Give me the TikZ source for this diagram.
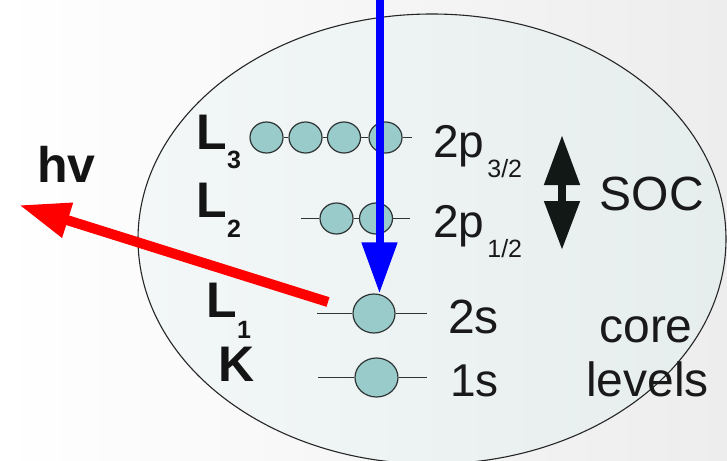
\documentclass[tikz,border=0pt]{standalone}
\usepackage{fontspec}
\setmainfont{Liberation Sans}
\usetikzlibrary{shapes.geometric,arrows.meta}
\definecolor{orbfill}{HTML}{9ACBCB}
\definecolor{orbdraw}{HTML}{2E3434}
\definecolor{ellL}{HTML}{F3F7F7}
\definecolor{ellR}{HTML}{E6EDED}
\definecolor{bgR}{HTML}{EDEDED}
\definecolor{socblack}{HTML}{121816}
\tikzset{
  orb/.style={ellipse, draw=orbdraw, line width=1.2pt, fill=orbfill, inner sep=0pt,
              minimum width=33pt, minimum height=31pt},
  bigorb/.style={orb, minimum width=42pt, minimum height=39pt},
  orbline/.style={draw=orbdraw, line width=1.3pt},
  lbl/.style={inner sep=0pt, anchor=base west, text=black!90, font=\fontsize{46}{50}\selectfont},
  blbl/.style={inner sep=0pt, anchor=base west, text=black!92, font=\fontsize{50}{54}\selectfont\bfseries},
  clbl/.style={inner sep=0pt, anchor=base, text=black!90, font=\fontsize{48}{52}\selectfont},
  bluearrow/.style={draw={rgb,255:red,0;green,0;blue,255}, line width=8pt,
                    -{Triangle[length=51pt,width=34pt]}},
  redarrow/.style={draw={rgb,255:red,255;green,0;blue,0}, line width=10pt,
                   -{Triangle[length=51pt,width=34pt]}},
  socarrow/.style={draw=socblack, line width=8pt,
                   {Triangle[length=50pt,width=34pt]}-{Triangle[length=49pt,width=34pt]}},
}
\newcommand{\sbx}[2]{\raisebox{-#1pt}{\fontsize{25}{25}\selectfont #2}}
\begin{document}
\begin{tikzpicture}[x=1pt,y=-1pt]
\useasboundingbox (0,0) rectangle (727,460);
% background
\shade[left color=white, right color=bgR] (0,0) rectangle (727,460);
% atom ellipse
\shade[left color=ellL, right color=ellR] (432,239) ellipse [x radius=294, y radius=225];
\draw[black!85, line width=1.1pt] (432,239) ellipse [x radius=294, y radius=225];

% L3 (2p3/2)
\node[orb] (c31) at (266.5,137.5) {};
\node[orb] (c32) at (305.5,137.5) {};
\node[orb] (c33) at (344,137.5) {};
\node[orb] (c34) at (385.5,137.5) {};
\coordinate (l3e) at (412,137.5);
\draw[orbline] (c31.east) -- (c32.west) (c32.east) -- (c33.west) (c33.east) -- (c34.west) (c34.east) -- (l3e);

% L2 (2p1/2)
\coordinate (l2s) at (301,218.5);
\node[orb] (c21) at (336.5,218.5) {};
\node[orb] (c22) at (376,218.5) {};
\coordinate (l2e) at (410,218.5);
\draw[orbline] (l2s) -- (c21.west) (c21.east) -- (c22.west) (c22.east) -- (l2e);

% L1 (2s)
\coordinate (l1s) at (317,313.5);
\node[bigorb] (c2s) at (374,313.5) {};
\coordinate (l1e) at (427,313.5);
\draw[orbline] (l1s) -- (c2s.west) (c2s.east) -- (l1e);

% K (1s)
\coordinate (ks) at (318,377.5);
\node[bigorb, minimum width=43pt] (c1s) at (376.5,377.5) {};
\coordinate (ke) at (427,377.5);
\draw[orbline] (ks) -- (c1s.west) (c1s.east) -- (ke);

% shell labels
\node[blbl] (hv) at (37,182) {hv};
\node[blbl] (tL3) at (196.5,149) {L\sbx{19}{3}};
\node[blbl] (tL2) at (196.5,217) {L\sbx{20}{2}};
\node[blbl] (tL1) at (206.5,317) {L\sbx{21}{1}};
\node[blbl] (tK) at (218.5,381) {K};

% level labels
\node[lbl] (t2p3) at (433,157) {2p\hspace{3pt}\sbx{20}{3/2}};
\node[lbl] (t2p1) at (433,237) {2p\hspace{3pt}\sbx{20}{1/2}};
\node[lbl, font=\fontsize{48}{52}\selectfont] (t2s) at (448,333) {2s};
\node[lbl] (t1s) at (450,396) {1s};
\node[lbl, font=\fontsize{48}{52}\selectfont] (tsoc) at (599.5,210) {SOC};
\node[clbl] (tcore) at (646,342) {core};
\node[clbl] (tlev) at (647.5,396) {levels};

% SOC double arrow
\coordinate (soct) at (562,135);
\coordinate (socb) at (562,250);
\draw[socarrow] (soct) -- (socb);

% incoming electron (blue)
\coordinate (btop) at (379.5,-5);
\draw[bluearrow] (btop) -- (btop |- c2s.north);

% emitted photon (red)
\coordinate (rs) at (328,302);
\coordinate (rt) at (19,205);
\draw[redarrow] (rs) -- (rt);
\end{tikzpicture}
\end{document}
